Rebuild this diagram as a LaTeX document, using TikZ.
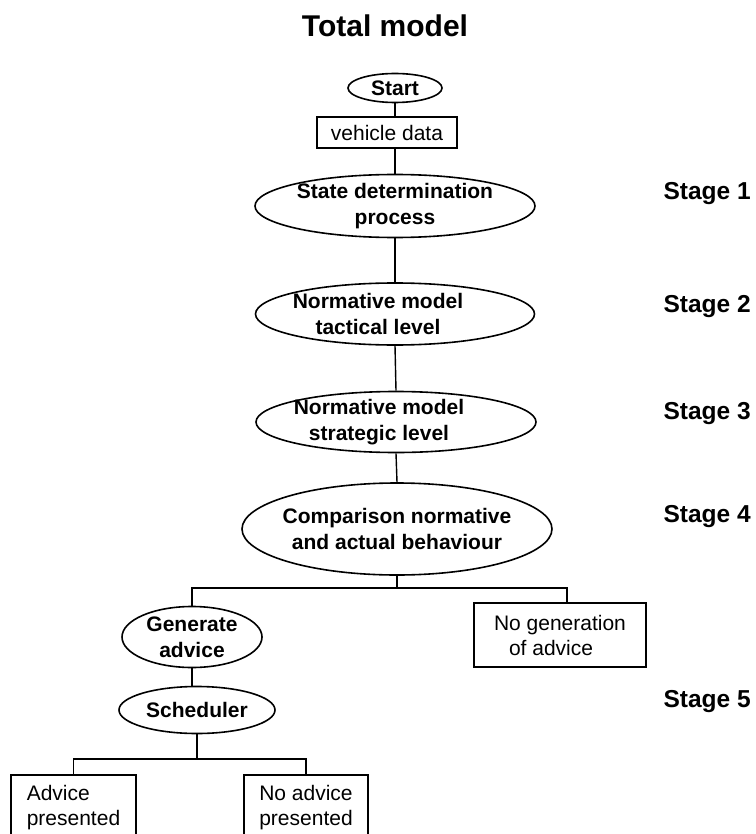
\documentclass[tikz,border=0pt]{standalone}
\usepackage{fontspec}
\setmainfont{Liberation Sans}
\usetikzlibrary{shapes.geometric}

\tikzset{
  oval/.style={draw, ellipse, line width=1.6pt, inner sep=0pt},
  ovaltext/.style={align=center, font=\fontsize{21}{26}\selectfont\bfseries},
  databox/.style={draw, rectangle, line width=1.4pt, inner sep=0pt, align=left, font=\fontsize{21}{25}\selectfont},
  stagelbl/.style={anchor=base west, font=\fontsize{24.5}{28}\selectfont\bfseries},
  link/.style={line width=1.4pt}
}

\begin{document}
\begin{tikzpicture}[x=1pt, y=-1pt]
  \clip (0,0) rectangle (755,834);

  % Title
  \node[anchor=base, font=\fontsize{30}{34}\selectfont\bfseries] (title) at (385,37) {Total model};

  % Main column
  \node[oval, minimum width=94, minimum height=29, label={[ovaltext]center:Start}] (start) at (395,88) {};
  \node[databox, minimum width=140, minimum height=31] (vdata) at (387,132.5) {vehicle data};
  \node[oval, minimum width=280, minimum height=63,
        label={[ovaltext]center:{State determination\\process}}] (state) at (395,206) {};
  \node[oval, minimum width=279, minimum height=62,
        label={[ovaltext, xshift=-17]center:{Normative model\\tactical level}}] (tact) at (395,314) {};
  \node[oval, minimum width=280, minimum height=61,
        label={[ovaltext, xshift=-17]center:{Normative model\\strategic level}}] (strat) at (396,422) {};
  \node[oval, minimum width=310, minimum height=92,
        label={[ovaltext]center:{Comparison normative\\and actual behaviour}}] (comp) at (397,529) {};

  % Advice branch
  \node[oval, minimum width=140, minimum height=61,
        label={[ovaltext]center:{Generate\\advice}}] (gen) at (192,637) {};
  \node[databox, minimum width=172, minimum height=64] (nogen) at (560,635) {No generation\\\hspace*{15pt}of advice};
  \node[oval, minimum width=156, minimum height=47, label={[ovaltext]center:Scheduler}] (sched) at (197,710) {};
  \node[databox, minimum width=125, minimum height=65] (adv) at (73.5,807.5) {Advice\\presented};
  \node[databox, minimum width=124, minimum height=65] (noadv) at (306,807.5) {No advice\\presented};

  % Stage labels
  \node[stagelbl] (st1) at (660,200) {Stage 1};
  \node[stagelbl] (st2) at (660,312) {Stage 2};
  \node[stagelbl] (st3) at (660,419) {Stage 3};
  \node[stagelbl] (st4) at (660,522) {Stage 4};
  \node[stagelbl] (st5) at (660,707) {Stage 5};

  % Connectors
  \draw[link] (start.south) -- (start.south |- vdata.north);
  \draw[link] (state.north |- vdata.south) -- (state.north);
  \draw[link] (state.south) -- (tact.north);
  \draw[link] (tact.south) -- (strat.north);
  \draw[link] (strat.south) -- (comp.north);
  \coordinate (fork) at (397,588);
  \draw[link] (comp.south) -- (fork);
  \draw[link] (gen.north) |- (fork) -| ([xshift=7]nogen.north);
  \draw[link] (gen.south) -- (gen.south |- sched.north);
  \coordinate (fork2) at (197,759);
  \draw[link] (sched.south) -- (fork2);
  \draw[link] (adv.north) |- (fork2) -| (noadv.north);
\end{tikzpicture}
\end{document}
